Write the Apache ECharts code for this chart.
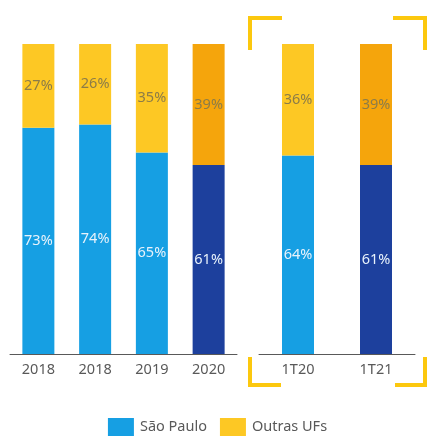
<!DOCTYPE html>
<html><head><meta charset="utf-8">
<script src="https://cdn.jsdelivr.net/npm/echarts@6/dist/echarts.min.js"></script>
<style>html,body{margin:0;padding:0;background:#fff}#c{width:435px;height:436px}</style>
</head><body><div id="c"></div>
<script>
const categoriesLeft = ['2018','2018','2019','2020'];
const categoriesRight = ['1T20','1T21'];
const saoPauloLeft = [73,74,65,61];
const outrasLeft = [27,26,35,39];
const saoPauloRight = [64,61];
const outrasRight = [36,39];
const highlightLeft = [false,false,false,true];
const highlightRight = [false,true];
const seriesNames = ['São Paulo','Outras UFs'];

const C = {blue:'#169fe3', dblue:'#1d409d', yellow:'#fdc824', orange:'#f5a50c'};
const FONT = 'Noto Sans';

function items(vals, hl, base, alt){
  return vals.map((v,i)=>({value:v, itemStyle:{color: hl[i]?alt:base}}));
}
const labelBlue = {show:true, position:'inside', formatter:'{c}%', color:'#e8f2fb', fontSize:14.5, fontFamily:FONT};
const labelYel = {show:true, position:'inside', formatter:'{c}%', color:'#8c7c48', fontSize:14.5, fontFamily:FONT};
const axisLbl = {color:'#595959', fontSize:14.5, fontFamily:FONT, margin:8};

const chart = echarts.init(document.getElementById('c'));
const bracket = (pts)=>({type:'polyline', shape:{points:pts}, style:{stroke:'#fcc80e', lineWidth:4, fill:null}, z:10});
chart.setOption({
  animation:false,
  legend:{data:seriesNames, left:'center', top:418, itemWidth:26, itemHeight:18, itemGap:13, padding:0,
    icon:'rect', textStyle:{color:'#595959', fontSize:14.5, fontFamily:FONT, padding:[0,0,0,1]}},
  grid:[
    {left:10, width:227, top:44, bottom:82},
    {left:259, width:156, top:44, bottom:82}
  ],
  xAxis:[
    {type:'category', gridIndex:0, data:categoriesLeft, axisTick:{show:false},
     axisLine:{lineStyle:{color:'#595959', width:1}}, axisLabel:axisLbl},
    {type:'category', gridIndex:1, data:categoriesRight, axisTick:{show:false},
     axisLine:{lineStyle:{color:'#595959', width:1}}, axisLabel:axisLbl}
  ],
  yAxis:[
    {type:'value', gridIndex:0, min:0, max:100, show:false},
    {type:'value', gridIndex:1, min:0, max:100, show:false}
  ],
  series:[
    {name:seriesNames[0], type:'bar', stack:'a', xAxisIndex:0, yAxisIndex:0, barWidth:32, itemStyle:{color:C.blue},
     data:items(saoPauloLeft, highlightLeft, C.blue, C.dblue), label:labelBlue},
    {name:seriesNames[1], type:'bar', stack:'a', xAxisIndex:0, yAxisIndex:0, barWidth:32, itemStyle:{color:C.yellow},
     data:items(outrasLeft, highlightLeft, C.yellow, C.orange), label:labelYel},
    {name:seriesNames[0], type:'bar', stack:'b', xAxisIndex:1, yAxisIndex:1, barWidth:32, itemStyle:{color:C.blue},
     data:items(saoPauloRight, highlightRight, C.blue, C.dblue), label:labelBlue},
    {name:seriesNames[1], type:'bar', stack:'b', xAxisIndex:1, yAxisIndex:1, barWidth:32, itemStyle:{color:C.yellow},
     data:items(outrasRight, highlightRight, C.yellow, C.orange), label:labelYel}
  ],
  graphic:[
    bracket([[250,50],[250,18],[282,18]]),
    bracket([[393,18],[425,18],[425,50]]),
    bracket([[250,357],[250,385],[281,385]]),
    bracket([[395,385],[425,385],[425,357]])
  ]
});
</script></body></html>
